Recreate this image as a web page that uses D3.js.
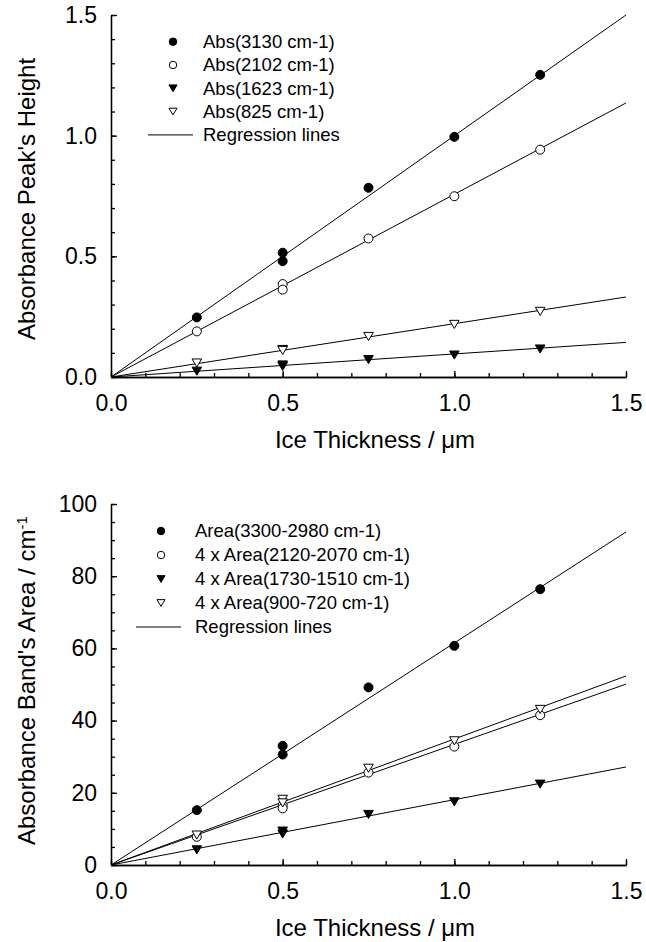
<!DOCTYPE html>
<meta charset="utf-8">
<style>
body { margin: 0; background: #fff; }
svg { display: block; font-family: Arial, "Liberation Sans", sans-serif; }
.axis path, .axis line { stroke: #000; stroke-width: 1.3px; }
.axis text { font-size: 23px; fill: #000; font-family: Arial, "Liberation Sans", sans-serif; }
.reg { stroke: #000; stroke-width: 1px; fill: none; }
.title { font-size: 24px; fill: #000; }
.legend text { font-size: 18.5px; fill: #000; }
</style>
<body>
<svg id="chart" width="646" height="942"></svg>
<script src="https://cdn.jsdelivr.net/npm/d3@7"></script>
<script>

// ---- data ----
var thickness = [0.25, 0.5, 0.5, 0.75, 1.0, 1.25];

// top panel: peak heights
var abs3130 = [0.247, 0.515, 0.48, 0.784, 0.995, 1.252];
var abs2102 = [0.189, 0.385, 0.362, 0.574, 0.749, 0.942];
var abs1623 = [0.024, 0.050, 0.044, 0.072, 0.091, 0.116];
var abs825  = [0.058, 0.114, 0.110, 0.168, 0.218, 0.272];
var topSlopes = [1.0, 0.757, 0.0956, 0.221];
var topLabels = ["Abs(3130 cm-1)", "Abs(2102 cm-1)", "Abs(1623 cm-1)", "Abs(825 cm-1)"];
var topTicks = [0, 0.5, 1.0, 1.5];

// bottom panel: band areas
var area3300 = [15.2, 33.0, 30.6, 49.2, 60.7, 76.4];
var area2120 = [7.8, 16.5, 15.7, 25.6, 32.8, 41.5];
var area1730 = [4.2, 9.4, 8.6, 14.0, 17.5, 22.4];
var area900  = [8.3, 18.2, 17.2, 26.8, 34.4, 43.1];
var botSlopes = [61.5, 33.4, 18.1, 34.9];
var botLabels = ["Area(3300-2980 cm-1)", "4 x Area(2120-2070 cm-1)", "4 x Area(1730-1510 cm-1)", "4 x Area(900-720 cm-1)"];
var botTicks = [0, 20, 40, 60, 80, 100];

var xTicks = [0, 0.5, 1.0, 1.5];
var markers = ["filledCircle", "openCircle", "filledDown", "openDown"];

var svg = d3.select("#chart");

// marker path, centered at 0,0
function markerPath(kind, size) {
  if (kind == "filledCircle" || kind == "openCircle") {
    return d3.symbol().type(d3.symbolCircle).size(Math.PI * size * size / 4)();
  }
  var w = size / 2 + 0.3, h = size * 0.45;
  return "M" + (-w) + "," + (-h) + "L" + w + "," + (-h) + "L0," + h + "Z";
}
function markerFill(kind) {
  return (kind == "filledCircle" || kind == "filledDown") ? "#000" : "#fff";
}

function panel(opt) {
  var x = d3.scaleLinear().domain([0, 1.5]).range([111, 626]);
  var y = d3.scaleLinear().domain(opt.yDomain).range([opt.y0, opt.y1]);
  var g = svg.append("g");

  // minor ticks
  g.append("g").attr("class", "axis").attr("transform", "translate(0," + opt.y0 + ")")
    .call(d3.axisBottom(x).tickValues(d3.range(0, 1.51, 0.1)).tickSizeInner(-4).tickSizeOuter(0).tickFormat(""));
  g.append("g").attr("class", "axis").attr("transform", "translate(111,0)")
    .call(d3.axisLeft(y).tickValues(opt.minor).tickSizeInner(-4).tickSizeOuter(0).tickFormat(""));

  // major ticks + labels
  g.append("g").attr("class", "axis").attr("transform", "translate(0," + opt.y0 + ")")
    .call(d3.axisBottom(x).tickValues(xTicks).tickSizeInner(-6).tickSizeOuter(0).tickPadding(18).tickFormat(d3.format(".1f")));
  g.append("g").attr("class", "axis").attr("transform", "translate(111,0)")
    .call(d3.axisLeft(y).tickValues(opt.ticks).tickSizeInner(-6).tickSizeOuter(0).tickPadding(14).tickFormat(opt.fmt));

  // regression lines
  opt.slopes.forEach(function(s) {
    var xEnd = Math.min(1.5, opt.yDomain[1] / s);
    g.append("line").attr("class", "reg")
      .attr("x1", x(0)).attr("y1", y(0))
      .attr("x2", x(xEnd)).attr("y2", y(s * xEnd));
  });

  // points
  opt.series.forEach(function(vals, i) {
    g.selectAll(null).data(vals).enter().append("path")
      .attr("d", markerPath(markers[i], 9))
      .attr("transform", function(d, j) { return "translate(" + x(thickness[j]) + "," + y(d) + ")"; })
      .attr("fill", markerFill(markers[i]))
      .attr("stroke", "#000").attr("stroke-width", 1);
  });

  // legend
  var lg = g.append("g").attr("class", "legend");
  opt.labels.concat(["Regression lines"]).forEach(function(t, i) {
    var ly = opt.legY + i * opt.legStep;
    if (i < 4) {
      lg.append("path").attr("d", markerPath(markers[i], 7.5))
        .attr("transform", "translate(" + opt.legMx + "," + ly + ")")
        .attr("fill", markerFill(markers[i])).attr("stroke", "#000").attr("stroke-width", 1);
    } else {
      lg.append("line").attr("class", "reg")
        .attr("x1", opt.legMx - 25).attr("x2", opt.legMx + 20)
        .attr("y1", ly).attr("y2", ly);
    }
    lg.append("text").attr("x", opt.legTx).attr("y", ly).attr("dy", "0.35em").text(t);
  });

  // axis titles
  g.append("text").attr("class", "title")
    .attr("x", 375).attr("y", opt.y0 + 71).attr("text-anchor", "middle")
    .text("Ice Thickness / \u03bcm");
  var yt = g.append("text").attr("class", "title")
    .attr("transform", "translate(35," + opt.titleStart + ") rotate(-90)");
  yt.append("tspan").text(opt.yTitle);
  if (opt.sup) yt.append("tspan").attr("dy", "-0.55em").style("font-size", "15px").text(opt.sup);
}

panel({
  y0: 377, y1: 15, yDomain: [0, 1.5],
  ticks: topTicks, minor: d3.range(0, 1.51, 0.1), fmt: d3.format(".1f"),
  slopes: topSlopes, series: [abs3130, abs2102, abs1623, abs825],
  labels: topLabels, legY: 41.7, legStep: 23.3, legMx: 173, legTx: 203,
  yTitle: "Absorbance Peak's Height", titleStart: 340
});

panel({
  y0: 865, y1: 504, yDomain: [0, 100],
  ticks: botTicks, minor: d3.range(0, 101, 5), fmt: d3.format("d"),
  slopes: botSlopes, series: [area3300, area2120, area1730, area900],
  labels: botLabels, legY: 531, legStep: 24, legMx: 161, legTx: 195,
  yTitle: "Absorbance Band's Area / cm", sup: "-1", titleStart: 845
});

</script>
</body>
